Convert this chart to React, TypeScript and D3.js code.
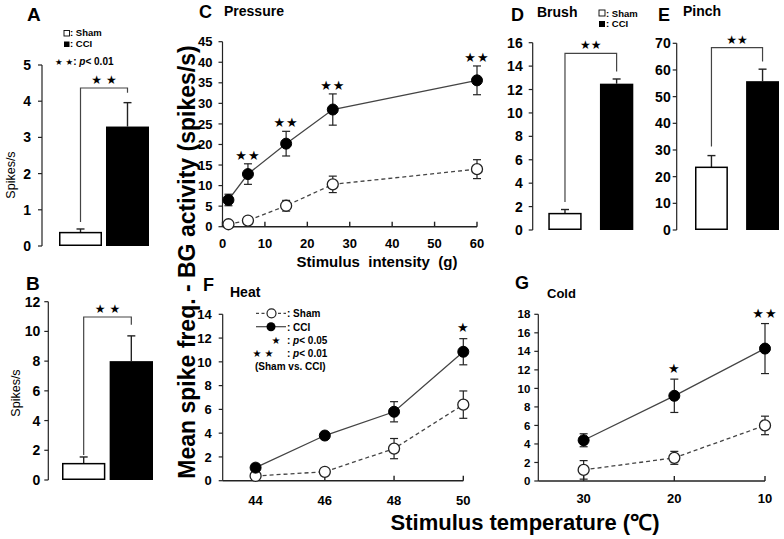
import React from "react";
import * as d3 from "d3";

// ---------------- data ----------------
const groups = ["Sham", "CCI"];

const spontAMeans = [0.37, 3.3];
const spontAErrs = [0.1, 0.66];
const spontBMeans = [1.1, 8.0];
const spontBErrs = [0.45, 1.7];
const brushMeans = [1.4, 12.5];
const brushErrs = [0.35, 0.4];
const pinchMeans = [23.5, 55.8];
const pinchErrs = [4.4, 4.5];

const pressureG = [1.4, 6, 15, 26, 60];
const pressureSham = [0.6, 1.5, 5.1, 10.3, 14.0];
const pressureShamErr = [0.3, 0.5, 1.3, 2.0, 2.3];
const pressureCCI = [6.5, 12.8, 20.2, 28.5, 35.6];
const pressureCCIErr = [1.4, 2.5, 3.0, 3.8, 3.5];
const pressureSig = ["", "**", "**", "**", "**"];
const pressureTicksX = [0, 10, 20, 30, 40, 50, 60];

const heatTemp = [44, 46, 48, 50];
const heatSham = [0.4, 0.75, 2.7, 6.4];
const heatShamErr = [0.2, 0.2, 0.85, 1.15];
const heatCCI = [1.1, 3.8, 5.8, 10.85];
const heatCCIErr = [0.3, 0.3, 0.85, 1.1];
const heatSig = ["", "", "", "*"];

const coldTemp = ["30", "20", "10"];
const coldSham = [1.2, 2.5, 6.0];
const coldShamErr = [1.0, 0.7, 1.0];
const coldCCI = [4.4, 9.2, 14.3];
const coldCCIErr = [0.7, 1.8, 2.7];
const coldSig = ["", "*", "**"];

// ---------------- style ----------------
const FONT = "'Liberation Sans', Arial, Helvetica, sans-serif";
const STAR_FONT = "'DejaVu Sans', sans-serif";
const INK = "#222";
const LINE = "#444";
const toStars = (s: string) => s.replace(/\*/g, "★");

function BarPanel(p: any) {
  const { values, errors, axisX, y0, y1, max, step, band, pad, labelGap, tickFont, bracketY, gapL, gapR, sig, sigSize, sigSpacing } = p;
  const y = d3.scaleLinear().domain([0, max]).range([y0, y1]);
  const x = d3.scaleBand().domain(groups).range(band).paddingInner(pad);
  const ticks = d3.range(0, max + step / 2, step);
  const cx = groups.map((g) => (x(g) as number) + x.bandwidth() / 2);
  const topL = y(values[0] + errors[0]) - gapL;
  const topR = y(values[1] + errors[1]) - gapR;
  return (
    <g>
      <line x1={axisX} x2={axisX} y1={y0} y2={y1} stroke={INK} strokeWidth={1.2} />
      {ticks.map((t) => (
        <g key={t}>
          <line x1={axisX - 4} x2={axisX} y1={y(t)} y2={y(t)} stroke={INK} strokeWidth={1.2} />
          <text x={axisX - labelGap} y={y(t)} dy="0.36em" textAnchor="end" fontSize={tickFont} fontWeight="bold">{t}</text>
        </g>
      ))}
      {groups.map((g, i) => (
        <g key={g}>
          <line x1={cx[i]} x2={cx[i]} y1={y(values[i])} y2={y(values[i] + errors[i])} stroke={INK} strokeWidth={1.4} />
          <line x1={cx[i] - 4} x2={cx[i] + 4} y1={y(values[i] + errors[i])} y2={y(values[i] + errors[i])} stroke={INK} strokeWidth={1.4} />
          <rect x={(x(g) as number) + (i === 0 ? 0.75 : 0)} y={y(values[i])} width={x.bandwidth() - (i === 0 ? 1.5 : 0)} height={y0 - y(values[i]) - (i === 0 ? 0.75 : 0)}
            fill={i === 0 ? "#fff" : "#000"} stroke="#000" strokeWidth={i === 0 ? 1.5 : 0} />
        </g>
      ))}
      <path d={`M${cx[0]},${topL}V${bracketY}H${cx[1]}V${topR}`} fill="none" stroke={LINE} strokeWidth={1.2} />
      <text x={(cx[0] + cx[1]) / 2} y={bracketY - 4} textAnchor="middle" fontFamily={STAR_FONT} fontSize={sigSize} letterSpacing={sigSpacing}>{toStars(sig)}</text>
    </g>
  );
}

function LinePanel(p: any) {
  const { x, y, xs, sham, shamErr, cci, cciErr, sig, xTicks, xTickLabels, yStep, yLabelGap, yTickFont, xTickFont, xLabelY, sigSize, sigGap, r } = p;
  const [ax0, ax1] = x.range();
  const [y0, y1] = y.range();
  const yTicks = d3.range(0, y.domain()[1] + yStep / 2, yStep);
  const line = d3.line<number>().x((_, i) => x(xs[i])).y((d) => y(d));
  const errBars = (vals: number[], errs: number[], key: string) =>
    vals.map((v, i) => {
      const cx = x(xs[i]);
      const t = y(v + errs[i]);
      const b = y(Math.max(0, v - errs[i]));
      return (
        <g key={key + i}>
          <line x1={cx} x2={cx} y1={t} y2={b} stroke={INK} strokeWidth={1.2} />
          <line x1={cx - 4} x2={cx + 4} y1={t} y2={t} stroke={INK} strokeWidth={1.2} />
          <line x1={cx - 4} x2={cx + 4} y1={b} y2={b} stroke={INK} strokeWidth={1.2} />
        </g>
      );
    });
  return (
    <g>
      <line x1={ax0} x2={ax0} y1={y0} y2={y1} stroke={INK} strokeWidth={1.2} />
      {yTicks.map((t: number) => (
        <g key={t}>
          <line x1={ax0 - 4} x2={ax0} y1={y(t)} y2={y(t)} stroke={INK} strokeWidth={1.2} />
          <text x={ax0 - yLabelGap} y={y(t)} dy="0.36em" textAnchor="end" fontSize={yTickFont} fontWeight="bold">{t}</text>
        </g>
      ))}
      <line x1={ax0} x2={ax1} y1={y0} y2={y0} stroke={INK} strokeWidth={1.4} />
      {xTicks.map((t: number, i: number) => (
        <g key={"x" + i}>
          <line x1={x(t)} x2={x(t)} y1={y0 - 5} y2={y0} stroke={INK} strokeWidth={1.4} />
          <text x={x(t)} y={xLabelY} textAnchor="middle" fontSize={xTickFont} fontWeight="bold">{xTickLabels[i]}</text>
        </g>
      ))}
      <path d={line(sham) as string} fill="none" stroke={LINE} strokeWidth={1.3} strokeDasharray="4,3" />
      <path d={line(cci) as string} fill="none" stroke={LINE} strokeWidth={1.3} />
      {errBars(sham, shamErr, "s")}
      {errBars(cci, cciErr, "c")}
      {sham.map((v: number, i: number) => (
        <circle key={"sm" + i} cx={x(xs[i])} cy={y(v)} r={r} fill="#fff" stroke={INK} strokeWidth={1.3} />
      ))}
      {cci.map((v: number, i: number) => (
        <circle key={"cm" + i} cx={x(xs[i])} cy={y(v)} r={r} fill="#000" stroke="#000" strokeWidth={1} />
      ))}
      {sig.map((s: string, i: number) =>
        s ? (
          <text key={"sg" + i} x={x(xs[i])} y={y(cci[i] + cciErr[i]) - sigGap} textAnchor="middle" fontFamily={STAR_FONT} fontSize={sigSize} letterSpacing={1}>{toStars(s)}</text>
        ) : null
      )}
    </g>
  );
}

export default function App() {
  const xC = d3.scaleLinear().domain([0, 60]).range([222.5, 477]);
  const yC = d3.scaleLinear().domain([0, 45]).range([226.7, 41.7]);
  const xF = d3.scaleLinear().domain([43.05, 50]).range([222.7, 463.3]);
  const yF = d3.scaleLinear().domain([0, 14]).range([480.7, 314.3]);
  const xG = d3.scaleLinear().domain([-0.5, 2]).range([538.3, 765]);
  const yG = d3.scaleLinear().domain([0, 18]).range([481, 314.3]);
  const coldIdx = coldTemp.map((_, i) => i);

  return (
    <svg width={784} height={539} style={{ position: "absolute", left: 0, top: 0, background: "#fff" }} fontFamily={FONT} fill="#000">
      <rect width={784} height={539} fill="#fff" />
      {/* Panel A */}
      <text x={27} y={21} fontSize={19} fontWeight="bold">A</text>
      <rect x={64} y={30.5} width={5.5} height={5.5} fill="#fff" stroke="#000" strokeWidth={0.9} />
      <text x={70} y={36} fontSize={9.5} fontWeight="bold">: Sham</text>
      <rect x={64} y={41.5} width={5.5} height={5.5} fill="#000" />
      <text x={70} y={47} fontSize={9.5} fontWeight="bold">: CCI</text>
      <text x={55} y={65} fontSize={10} fontWeight="bold">
        <tspan fontFamily={STAR_FONT} fontSize={8.5}>★ ★</tspan>
        <tspan>: </tspan><tspan fontStyle="italic">p</tspan><tspan>&lt; 0.01</tspan>
      </text>
      <text transform="translate(15,175) rotate(-90)" textAnchor="middle" fontSize={12.5}>Spikes/s</text>
      <BarPanel values={spontAMeans} errors={spontAErrs} axisX={42} y0={246} y1={65} max={5} step={1} band={[59, 149]} pad={0.085}
        labelGap={11} tickFont={14} bracketY={88} gapL={7} gapR={10} sig="* *" sigSize={12} sigSpacing={0} />

      {/* Panel B */}
      <text x={26} y={290} fontSize={19} fontWeight="bold">B</text>
      <text transform="translate(20,393) rotate(-90)" textAnchor="middle" fontSize={12.5}>Spikes/s</text>
      <BarPanel values={spontBMeans} errors={spontBErrs} axisX={48.3} y0={480} y1={301.7} max={12} step={2} band={[62, 153]} pad={0.09}
        labelGap={8} tickFont={14} bracketY={317} gapL={2} gapR={11} sig="* *" sigSize={12} sigSpacing={0} />

      {/* Panel C */}
      <text x={199} y={18} fontSize={18} fontWeight="bold">C</text>
      <text x={224} y={16} fontSize={14} fontWeight="bold">Pressure</text>
      <LinePanel x={xC} y={yC} xs={pressureG} sham={pressureSham} shamErr={pressureShamErr} cci={pressureCCI} cciErr={pressureCCIErr}
        sig={pressureSig} xTicks={pressureTicksX} xTickLabels={pressureTicksX.map(String)} yStep={5} yLabelGap={10} yTickFont={13}
        xTickFont={13} xLabelY={248} sigSize={13} sigGap={4} r={5.5} />
      <text x={377} y={267} textAnchor="middle" fontSize={15} fontWeight="bold" style={{ whiteSpace: "pre" }}>{"Stimulus  intensity  (g)"}</text>

      {/* Big y label */}
      <text transform="translate(195,262) rotate(-90)" textAnchor="middle" fontSize={23} fontWeight="bold">Mean spike freq. - BG activity (spikes/s)</text>

      {/* Panel D */}
      <text x={511} y={21} fontSize={18} fontWeight="bold">D</text>
      <text x={537} y={17} fontSize={14} fontWeight="bold">Brush</text>
      <rect x={599} y={10} width={6} height={6} fill="#fff" stroke="#000" strokeWidth={0.9} />
      <text x={606} y={16.5} fontSize={9.5} fontWeight="bold">: Sham</text>
      <rect x={599} y={21} width={6} height={6} fill="#000" />
      <text x={606} y={27} fontSize={9.5} fontWeight="bold">: CCI</text>
      <BarPanel values={brushMeans} errors={brushErrs} axisX={532.7} y0={230} y1={42.7} max={16} step={2} band={[548.3, 633.3]} pad={0.354}
        labelGap={10} tickFont={14} bracketY={53.3} gapL={7.6} gapR={7.6} sig="**" sigSize={12} sigSpacing={0} />

      {/* Panel E */}
      <text x={658} y={21} fontSize={18} fontWeight="bold">E</text>
      <text x={683} y={16} fontSize={14} fontWeight="bold">Pinch</text>
      <BarPanel values={pinchMeans} errors={pinchErrs} axisX={676.7} y0={230} y1={43.3} max={70} step={10} band={[695, 779]} pad={0.356}
        labelGap={6} tickFont={14} bracketY={47.7} gapL={9} gapR={7.6} sig="**" sigSize={12} sigSpacing={0} />

      {/* Panel F */}
      <text x={203} y={291} fontSize={18} fontWeight="bold">F</text>
      <text x={230} y={297} fontSize={14} fontWeight="bold">Heat</text>
      <LinePanel x={xF} y={yF} xs={heatTemp} sham={heatSham} shamErr={heatShamErr} cci={heatCCI} cciErr={heatCCIErr}
        sig={heatSig} xTicks={heatTemp} xTickLabels={heatTemp.map(String)} yStep={2} yLabelGap={11} yTickFont={13}
        xTickFont={13} xLabelY={505} sigSize={13} sigGap={7} r={5.5} />
      {/* F legend */}
      <line x1={256} x2={286} y1={313.3} y2={313.3} stroke={LINE} strokeWidth={1.2} strokeDasharray="3,2.5" />
      <circle cx={271.5} cy={313.3} r={4.5} fill="#fff" stroke={INK} strokeWidth={1.2} />
      <text x={287} y={317} fontSize={10} fontWeight="bold">: Sham</text>
      <line x1={256} x2={286} y1={326.7} y2={326.7} stroke={LINE} strokeWidth={1.2} />
      <circle cx={271} cy={326.7} r={4.5} fill="#000" />
      <text x={287} y={330.5} fontSize={10} fontWeight="bold">: CCI</text>
      <text x={276} y={344} textAnchor="middle" fontFamily={STAR_FONT} fontSize={10}>★</text>
      <text x={287} y={344} fontSize={10} fontWeight="bold">: <tspan fontStyle="italic">p</tspan>&lt; 0.05</text>
      <text x={263} y={357} textAnchor="middle" fontFamily={STAR_FONT} fontSize={10}>★  ★</text>
      <text x={287} y={356.5} fontSize={10} fontWeight="bold">: <tspan fontStyle="italic">p</tspan>&lt; 0.01</text>
      <text x={255} y={370} fontSize={10} fontWeight="bold">(Sham vs. CCI)</text>

      {/* Panel G */}
      <text x={515} y={289} fontSize={18} fontWeight="bold">G</text>
      <text x={547} y={298} fontSize={13} fontWeight="bold">Cold</text>
      <LinePanel x={xG} y={yG} xs={coldIdx} sham={coldSham} shamErr={coldShamErr} cci={coldCCI} cciErr={coldCCIErr}
        sig={coldSig} xTicks={coldIdx} xTickLabels={coldTemp} yStep={2} yLabelGap={8} yTickFont={11.5}
        xTickFont={13} xLabelY={503} sigSize={13} sigGap={6} r={5.5} />

      <text x={525} y={530} textAnchor="middle" fontSize={22} fontWeight="bold">Stimulus temperature (℃)</text>
    </svg>
  );
}
